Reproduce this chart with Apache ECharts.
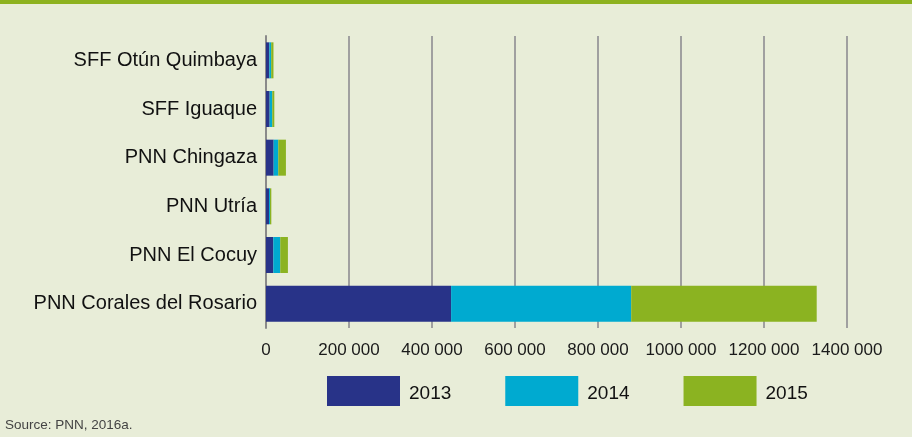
<!DOCTYPE html>
<html>
<head>
<meta charset="utf-8">
<script src="https://cdn.jsdelivr.net/npm/echarts@6/dist/echarts.min.js"></script>
<style>
html,body{margin:0;padding:0;background:#E8EDD8;}
#chart{width:912px;height:437px;}
</style>
</head>
<body>
<div id="chart"></div>
<script>
// Categories listed bottom to top (category axis starts at the bottom)
var categories = ['PNN Corales del Rosario', 'PNN El Cocuy', 'PNN Utría', 'PNN Chingaza', 'SFF Iguaque', 'SFF Otún Quimbaya'];
var seriesNames = ['2013', '2014', '2015'];
var values2013 = [446000, 17600, 7200, 18400, 8800, 8000];
var values2014 = [434000, 16800, 2400, 11200, 6400, 4500];
var values2015 = [447000, 18400, 3200, 18400, 4800, 5500];
var xTicks = [0, 200000, 400000, 600000, 800000, 1000000, 1200000, 1400000];
var colors = ['#283388', '#00AAD0', '#8BB321'];

function fmt(v) {
  if (v === 0) return '0';
  var th = Math.floor(v / 1000);
  var rest = v % 1000;
  return th + ' ' + String(rest).padStart(3, '0');
}

var chart = echarts.init(document.getElementById('chart'));
var allValues = [values2013, values2014, values2015];
var series = seriesNames.map(function (name, i) {
  return {
    name: name,
    type: 'bar',
    stack: 'total',
    data: allValues[i],
    barWidth: 36,
    itemStyle: { color: colors[i] }
  };
});

chart.setOption({
  backgroundColor: '#E8EDD8',
  animation: false,
  color: colors,
  grid: { left: 266, right: 65, top: 36, bottom: 109, containLabel: false },
  xAxis: {
    type: 'value',
    min: xTicks[0],
    max: xTicks[xTicks.length - 1],
    interval: 200000,
    axisLine: { show: false },
    axisTick: { show: false },
    splitLine: { show: true, lineStyle: { color: '#A0A0A0', width: 2 } },
    axisLabel: {
      margin: 14,
      fontFamily: 'Liberation Sans, Arial, sans-serif',
      fontSize: 17,
      color: '#1a1a1a',
      formatter: function (v) { return fmt(v); }
    }
  },
  yAxis: {
    type: 'category',
    data: categories,
    axisLine: { show: true, lineStyle: { color: '#8A8A8A', width: 2 } },
    axisTick: { show: false },
    axisLabel: {
      margin: 9,
      fontFamily: 'Liberation Sans, Arial, sans-serif',
      fontSize: 20,
      color: '#111'
    }
  },
  legend: {
    data: seriesNames,
    left: 327,
    top: 376,
    padding: 0,
    itemWidth: 73,
    itemHeight: 30,
    itemGap: 54,
    icon: 'rect',
    formatter: function (name) { return '{t|' + name + '}'; },
    textStyle: {
      rich: {
        t: {
          fontFamily: 'Liberation Sans, Arial, sans-serif',
          fontSize: 19,
          color: '#111',
          padding: [6, 0, 0, 4]
        }
      }
    }
  },
  graphic: [
    { type: 'rect', left: 0, top: 0, shape: { width: 912, height: 4 }, style: { fill: '#8DB21E' } },
    { type: 'text', left: 5, top: 418, style: { text: 'Source: PNN, 2016a.', fontFamily: 'Liberation Sans, Arial, sans-serif', fontSize: 13.5, fill: '#444' } }
  ],
  series: series
});
</script>
</body>
</html>
